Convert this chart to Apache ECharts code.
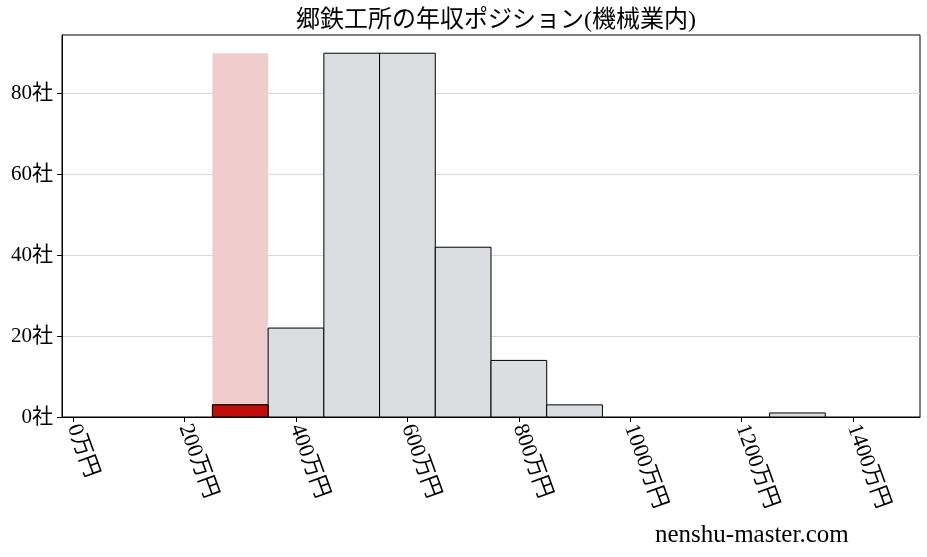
<!DOCTYPE html>
<html><head><meta charset="utf-8">
<script src="https://cdn.jsdelivr.net/npm/echarts@6/dist/echarts.min.js"></script>
<style>html,body{margin:0;padding:0;background:#fff}#c{width:927px;height:557px}</style>
</head><body><div id="c"></div>
<script>
var titleText = '郷鉄工所の年収ポジション(機械業内)';
var binCenters = [300, 400, 500, 600, 700, 800, 900, 1000, 1100, 1200, 1300];
var binCounts = [3, 22, 90, 90, 42, 14, 3, 0, 0, 0, 1];
var binWidth = 100;
var highlightCenter = [300];
var highlightHeight = [90];
var companyCount = [3];
var xTicks = [0, 200, 400, 600, 800, 1000, 1200, 1400];
var yTicks = [0, 20, 40, 60, 80];
var watermark = 'nenshu-master.com';

var FONT = '"Liberation Serif", "DejaVu Serif", "Noto Sans CJK JP", serif';

function rectSeries(name, centers, heights, fill, stroke, z) {
  return {
    type: 'custom', name: name, z: z,
    data: centers.map(function (c, i) { return [c, heights[i]]; }),
    renderItem: function (params, api) {
      var c = api.value(0), h = api.value(1);
      if (!h) return null;
      var p0 = api.coord([c - binWidth / 2, h]);
      var p1 = api.coord([c + binWidth / 2, 0]);
      return {
        type: 'rect',
        shape: { x: p0[0], y: p0[1], width: p1[0] - p0[0], height: p1[1] - p0[1] },
        style: { fill: fill, stroke: stroke, lineWidth: stroke ? 1 : 0 }
      };
    }
  };
}

var chart = echarts.init(document.getElementById('c'));
chart.setOption({
  animation: false,
  textStyle: { fontFamily: FONT },
  title: {
    text: titleText, left: 491, top: 4, textAlign: 'center',
    textStyle: { fontFamily: FONT, fontSize: 24, fontWeight: 'normal', color: '#000' }
  },
  grid: { left: 62, right: 7, top: 35, bottom: 140, show: true, borderColor: '#000', borderWidth: 1, containLabel: false },
  xAxis: {
    type: 'value', min: -20, max: 1520,
    axisLine: { show: true, onZero: false, lineStyle: { color: '#000' } },
    axisTick: { show: true, inside: false, length: 5, lineStyle: { color: '#000' },
      customValues: xTicks },
    splitLine: { show: false },
    axisLabel: {
      customValues: xTicks,
      formatter: function (v) { return v + '万円'; },
      rotate: -70, fontSize: 22, color: '#000', fontFamily: FONT, margin: 8
    }
  },
  yAxis: {
    type: 'value', min: 0, max: 94.5,
    axisLine: { show: true, onZero: false, lineStyle: { color: '#000' } },
    axisTick: { show: true, length: 5, lineStyle: { color: '#000' }, customValues: yTicks },
    splitLine: { show: true, lineStyle: { color: '#d9d9d9', width: 1 } },
    axisLabel: {
      customValues: yTicks,
      formatter: function (v) { return v + '社'; },
      fontSize: 21, color: '#000', fontFamily: FONT, margin: 9
    }
  },
  graphic: [{
    type: 'text', left: 655, top: 523,
    style: { text: watermark, font: '25px ' + FONT, fill: '#000' }
  }],
  series: [
    rectSeries('highlight', highlightCenter, highlightHeight, '#f0cccd', null, 1),
    rectSeries('bins', binCenters, binCounts, '#dcdde0', '#000', 2),
    rectSeries('company', highlightCenter, companyCount, '#c10c0c', '#000', 3)
  ]
});
</script></body></html>
